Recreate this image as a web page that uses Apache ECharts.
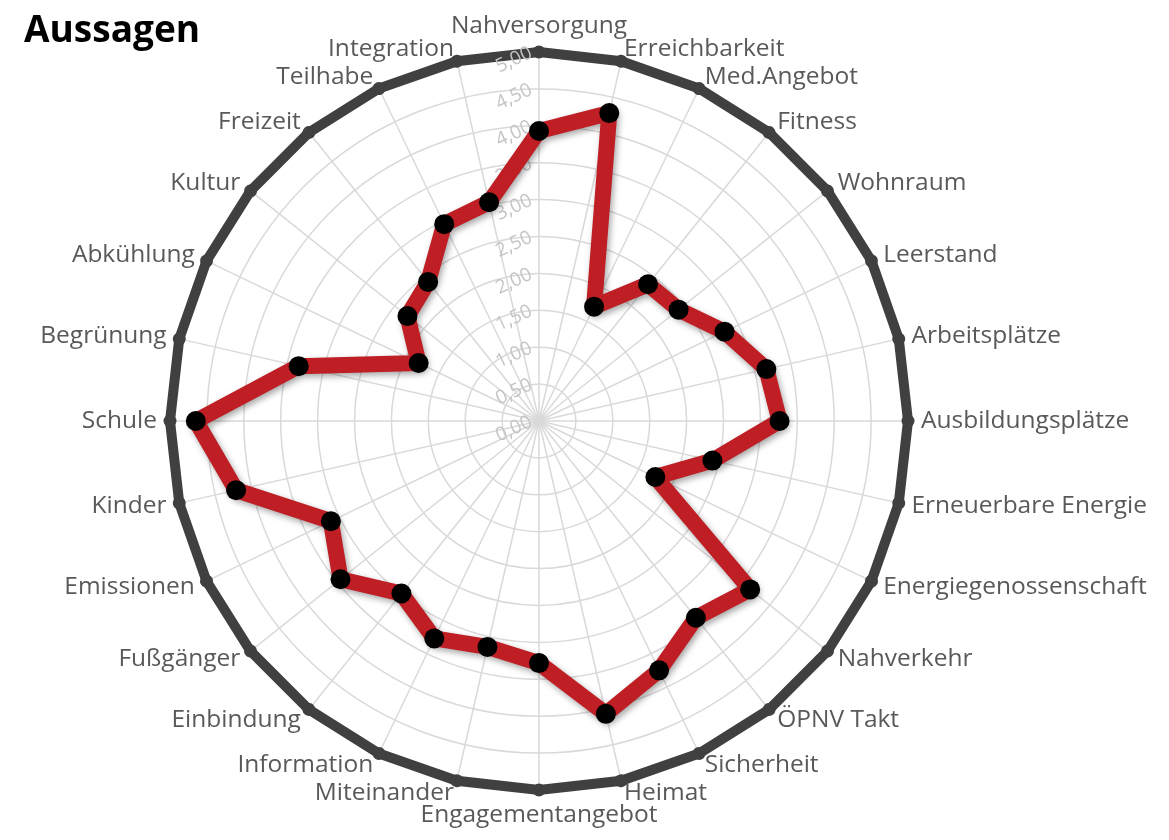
<!DOCTYPE html>
<html>
<head>
<meta charset="utf-8">
<title>Aussagen</title>
<script src="https://cdn.jsdelivr.net/npm/echarts@6/dist/echarts.min.js"></script>
<style>
    html, body { margin: 0; padding: 0; background: #ffffff; }
    #chart { width: 1169px; height: 840px; }
</style>
</head>
<body>
<div id="chart"></div>
<script>
// Kategorien im Uhrzeigersinn, beginnend oben
const categories = [
    "Nahversorgung", "Erreichbarkeit", "Med.Angebot", "Fitness", "Wohnraum", "Leerstand",
    "Arbeitsplätze", "Ausbildungsplätze", "Erneuerbare Energie", "Energiegenossenschaft",
    "Nahverkehr", "ÖPNV Takt", "Sicherheit", "Heimat", "Engagementangebot", "Miteinander",
    "Information", "Einbindung", "Fußgänger", "Emissionen", "Kinder", "Schule", "Begrünung",
    "Abkühlung", "Kultur", "Freizeit", "Teilhabe", "Integration"
];
const scores = [
    3.93, 4.28, 1.72, 2.37, 2.42, 2.79,
    3.16, 3.26, 2.41, 1.75,
    3.66, 3.41, 3.75, 4.07, 3.28, 3.14,
    3.27, 2.99, 3.44, 3.13, 4.21, 4.65, 3.34,
    1.81, 2.28, 2.41, 2.96, 3.04
];
const axisMin = 0;
const axisMax = 5;
const axisStep = 0.5;

const chart = echarts.init(document.getElementById("chart"));

// ECharts legt die Achsen gegen den Uhrzeigersinn an -> Reihenfolge umdrehen
const order = [0].concat(categories.map((_, i) => i).slice(1).reverse());
const indicator = order.map((i) => ({ name: categories[i], min: axisMin, max: axisMax }));
indicator[0].axisLabel = {
    show: true,
    color: "#c4c4c4",
    fontSize: 19,
    fontFamily: "Open Sans",
    rotate: 25,
    showMinLabel: true,
    formatter: (v) => v.toFixed(2).replace(".", ","),
};
const frameIndicator = order.map(() => ({ name: "", min: axisMin, max: axisMax }));

const center = [539, 421];
const radius = 369;

const option = {
    animation: false,
    title: {
        text: "Aussagen",
        left: 19,
        top: 8,
        textStyle: { fontFamily: "Open Sans", fontSize: 37, fontWeight: "bold", color: "#000000" },
    },
    radar: [
        {
            center: center,
            radius: radius,
            shape: "circle",
            splitNumber: (axisMax - axisMin) / axisStep,
            indicator: indicator,
            nameGap: 13,
            axisName: { color: "#595959", fontSize: 24.5, fontFamily: "Open Sans" },
            axisLine: { lineStyle: { color: "#d9d9d9", width: 1.5 } },
            splitLine: { lineStyle: { color: "#d9d9d9", width: 1.5 } },
            splitArea: { show: false },
            axisTick: { show: false },
            axisLabel: { show: false },
        },
        {
            center: center,
            radius: radius,
            shape: "polygon",
            splitNumber: 1,
            indicator: frameIndicator,
            axisName: { show: false },
            axisLine: {
                show: true,
                symbol: ["none", "circle"],
                symbolSize: [13, 13],
                lineStyle: { color: "#404040", width: 0 },
            },
            splitLine: { lineStyle: { color: "#404040", width: 10 } },
            splitArea: { show: false },
            axisTick: { show: false },
            axisLabel: { show: false },
        },
    ],
    series: [
        {
            type: "radar",
            radarIndex: 0,
            z: 5,
            symbol: "circle",
            symbolSize: 20,
            lineStyle: {
                color: "#be1e24",
                width: 16,
                shadowColor: "rgba(0, 0, 0, 0.35)",
                shadowBlur: 6,
                shadowOffsetX: 2,
                shadowOffsetY: 3,
            },
            itemStyle: { color: "#000000" },
            data: [{ value: order.map((i) => scores[i]), name: "Aussagen" }],
        },
    ],
};
chart.setOption(option);
</script>
</body>
</html>
